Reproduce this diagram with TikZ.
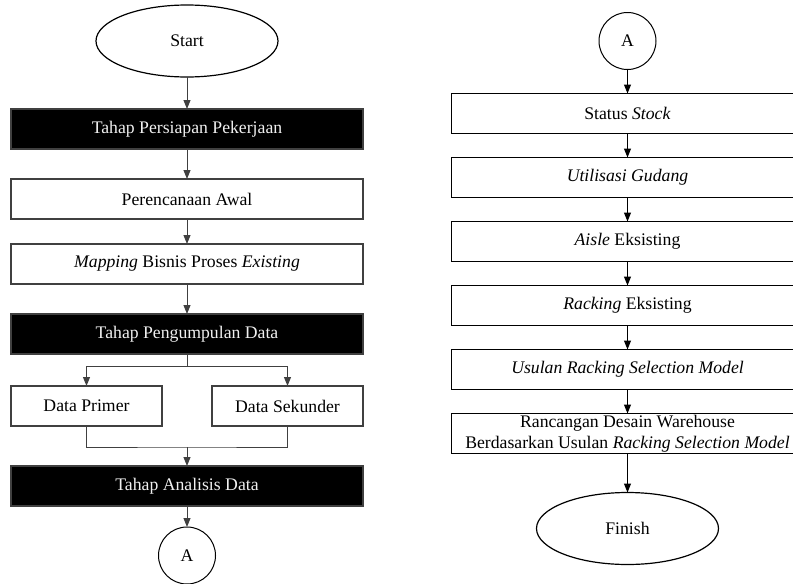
\documentclass[tikz,border=0pt]{standalone}
\usepackage{fontspec}
\setmainfont{Liberation Serif}
\usepackage{tikz}
\usetikzlibrary{arrows.meta,shapes,positioning}
\usepackage{xcolor}
\definecolor{flgray}{RGB}{64,64,64}
\definecolor{flwhite}{RGB}{240,240,240}
\tikzstyle{arrowL} = [line width=1pt,-{Triangle[length=9pt,width=7pt]},color=flgray]
\tikzstyle{arrowR} = [line width=1pt,-{Triangle[length=9pt,width=7pt]},color=black]

\begin{document}
\begin{tikzpicture}[
    x=1pt, y=-1pt,
    font=\fontsize{17.7}{21}\selectfont,
    terminal/.style={ellipse, draw, line width=1.2pt, minimum width=182pt, minimum height=72pt, inner sep=0pt, outer sep=0pt},
    connector/.style={circle, draw, line width=1pt, minimum size=57pt, inner sep=0pt, outer sep=0pt},
    process/.style={rectangle, draw=flgray, line width=1.2pt, fill=white, minimum width=352pt, minimum height=40pt, inner sep=0pt, outer sep=0pt, align=center},
    phase/.style={process, fill=black, text=flwhite},
    halfbox/.style={process, minimum width=151pt}
]
\useasboundingbox (0,0) rectangle (793,584);

% Left column
\node (start) [terminal] at (187,41) {Start};
\node (persiapan) [phase, below=32pt of start] {Tahap Persiapan Pekerjaan};
\node (awal) [process, below=30pt of persiapan] {Perencanaan Awal};
\node (mapping) [process, below=25pt of awal] {\textit{Mapping} Bisnis Proses \textit{Existing}};
\node (pengumpulan) [phase, below=30pt of mapping] {Tahap Pengumpulan Data};
\node (primer) [halfbox] at (86.5,406) {Data Primer};
\node (sekunder) [halfbox] at (287.5,406) {Data Sekunder};
\node (analisis) [phase] at (187,486) {Tahap Analisis Data};
\node (toA) [connector, below=21pt of analisis] {A};

% Right column
\node (fromA) [connector] at (627.5,41) {A};
\node (stock) [process, draw=black, below=24pt of fromA] {Status \textit{Stock}};
\node (utilisasi) [process, draw=black, below=24pt of stock] {\textit{Utilisasi Gudang}};
\node (aisle) [process, draw=black, below=24pt of utilisasi] {\textit{Aisle} Eksisting};
\node (racking) [process, draw=black, below=24pt of aisle] {\textit{Racking} Eksisting};
\node (usulan) [process, draw=black, below=24pt of racking] {\textit{Usulan Racking Selection Model}};
\node (rancangan) [process, draw=black, below=24pt of usulan] {Rancangan Desain Warehouse\\Berdasarkan Usulan \textit{Racking Selection Model}};
\node (finish) [terminal, below=39pt of rancangan] {Finish};

% Branch points
\coordinate (split) at (187,366);
\coordinate (merge) at (187,447);

% Connections
\draw[arrowL] (start) -- (persiapan);
\draw[arrowL] (persiapan) -- (awal);
\draw[arrowL] (awal) -- (mapping);
\draw[arrowL] (mapping) -- (pengumpulan);
\draw[arrowL] (pengumpulan.south) -- (split) -| (primer.north);
\draw[arrowL] (split) -| (sekunder.north);
\draw[line width=1pt, flgray] (primer.south) |- (merge) -| (sekunder.south);
\draw[arrowL] (merge) -- (analisis);
\draw[arrowL] (analisis) -- (toA);

\draw[arrowR] (fromA) -- (stock);
\draw[arrowR] (stock) -- (utilisasi);
\draw[arrowR] (utilisasi) -- (aisle);
\draw[arrowR] (aisle) -- (racking);
\draw[arrowR] (racking) -- (usulan);
\draw[arrowR] (usulan) -- (rancangan);
\draw[arrowR] (rancangan) -- (finish);
\end{tikzpicture}
\end{document}
